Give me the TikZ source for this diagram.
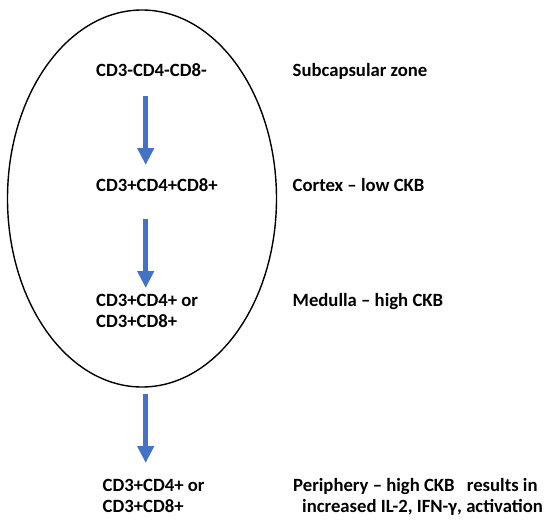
\documentclass[tikz,border=0pt]{standalone}
\usepackage{fontspec}
\setmainfont{Carlito}
\usetikzlibrary{arrows.meta,shapes.geometric}
\definecolor{arrowblue}{HTML}{4472C4}
\tikzset{
  lbl/.style={anchor=base west, inner sep=0pt, align=left,
    font=\fontsize{18.7}{21.5}\selectfont\bfseries},
  flow/.style={draw=arrowblue, line width=5pt,
    -{Triangle[width=16pt,length=17pt]}},
  capsule/.style={draw=black, line width=1.4pt, ellipse, inner sep=0pt,
    minimum width=269pt, minimum height=377pt}
}
\begin{document}
\begin{tikzpicture}[x=1pt,y=-1pt]
\useasboundingbox (0,0) rectangle (550,525);
\node[capsule] (thymus) at (142,198.5) {};
% left column (two-line nodes are placed by the baseline of their last line)
\node[lbl] (dn) at (96,76) {CD3-CD4-CD8-};
\node[lbl] (dp) at (96,191) {CD3+CD4+CD8+};
\node[lbl] (sp) at (96,327.5) {CD3+CD4+ or\\CD3+CD8+};
\node[lbl] (per) at (102.5,512.5) {CD3+CD4+ or\\CD3+CD8+};
% right column
\node[lbl] (z1) at (292.5,76) {Subcapsular zone};
\node[lbl] (z2) at (292.5,191) {Cortex – low CKB};
\node[lbl] (z3) at (292.5,306) {Medulla – high CKB};
\node[lbl] (z4) at (293,512.5) {Periphery – high CKB\hspace{0.65em}results in\\\hspace*{9pt}increased IL-2, IFN-γ, activation};
% arrow endpoints
\coordinate (a1s) at (145.7,96);
\coordinate (a1e) at (145.7,165);
\coordinate (a2s) at (145.7,219);
\coordinate (a2e) at (145.7,288);
\coordinate (a3s) at (145.7,394);
\coordinate (a3e) at (145.7,463);
\draw[flow] (a1s) -- (a1e);
\draw[flow] (a2s) -- (a2e);
\draw[flow] (a3s) -- (a3e);
\end{tikzpicture}
\end{document}
